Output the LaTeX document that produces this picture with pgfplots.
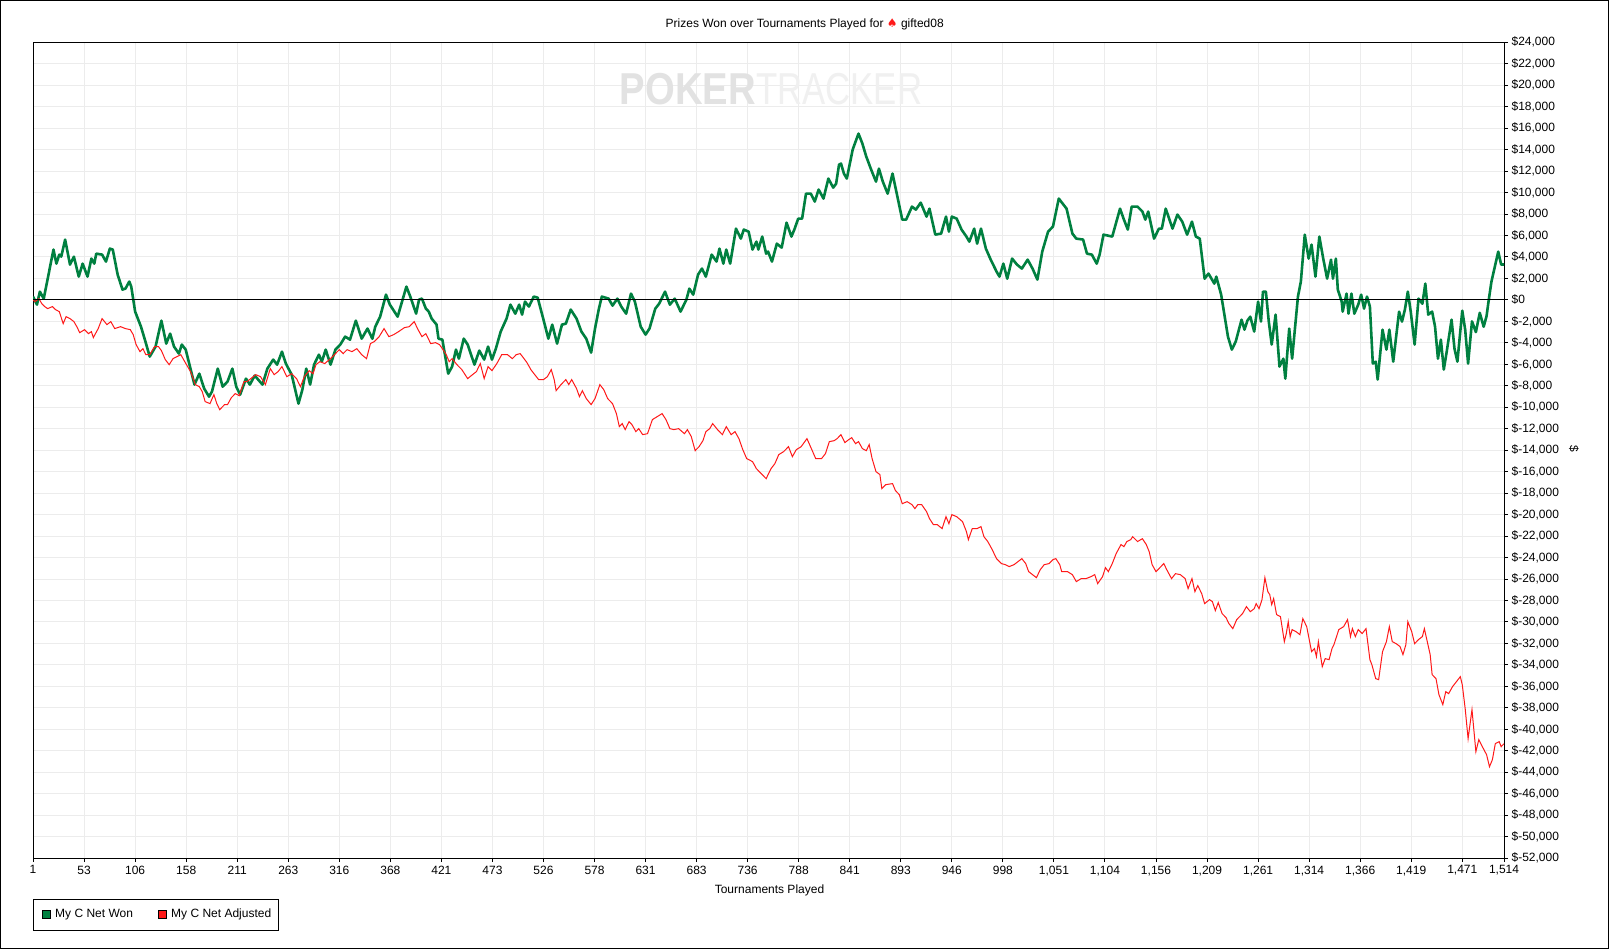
\documentclass[border=0pt]{standalone}
\usepackage{pgfplots}
\pgfplotsset{compat=1.18}
\usepackage{fontspec}
\setmainfont{Liberation Sans}
\newfontfamily\dejavu{DejaVu Sans}
\newcommand\cf{\fontsize{12bp}{14bp}\selectfont}
\definecolor{pgreen}{RGB}{0,128,64}
\definecolor{pred}{RGB}{255,25,25}
\definecolor{gridc}{RGB}{236,236,236}
\definecolor{wmA}{RGB}{226,226,226}
\definecolor{wmB}{RGB}{240,240,240}
\begin{document}
\begin{tikzpicture}[x=1bp,y=1bp]
\useasboundingbox (0,0) rectangle (1609,949);
\fill[white] (0,0) rectangle (1609,949);
\begin{axis}[
  at={(34,84.6)}, anchor=south west,
  scale only axis, width=1471bp, height=815.9bp,
  xmin=1, xmax=1514, ymin=-52000, ymax=24000,
  xtick={1,53.5,106,158.5,211,263.5,316,368.5,421,473.5,526,578.5,631,683.5,736,788.5,841,893.5,946,998.5,1051,1103.5,1156,1208.5,1261,1313.5,1366,1418.5,1471,1514},
  xticklabels={1,53,106,158,211,263,316,368,421,473,526,578,631,683,736,788,841,893,946,998,{1,051},{1,104},{1,156},{1,209},{1,261},{1,314},{1,366},{1,419},{1,471},{1,514}},
  ytick={-52000,-50000,...,24000},
  scaled y ticks=false,
  /pgf/number format/assume math mode=true,
  /pgf/number format/fixed, /pgf/number format/precision=0,
  /pgf/number format/1000 sep={,},
  yticklabel={\$\pgfmathprintnumber{\tick}},
  yticklabel pos=right, ytick pos=right, xtick pos=bottom,
  tick align=outside, major tick length=4bp,
  tick style={black, line width=1bp},
  axis line style={black, line width=1bp},
  grid=major, grid style={gridc, line width=1bp},
  xticklabel style={font=\cf, text=black},
  yticklabel style={font=\cf, text=black, anchor=west},
]
\addplot[pgreen, line width=2.6bp, line join=round] coordinates {
(1,300) (5,-440) (8,770) (12,120) (22,4690) (25,3380) (28,4220) (30,4030) (34,5620) (39,3290) (43,4030) (48,2170) (52,3380) (57,2170) (61,3850) (64,3380) (66,4310) (72,4220) (76,3570) (80,4780) (83,4690) (88,2360) (93,960) (96,1050) (100,1710) (102,1240) (106,-1090) (112,-2490) (116,-3700) (121,-5280) (127,-4350) (133,-1930) (138,-4070) (142,-3140) (146,-4350) (151,-5000) (154,-4160) (158,-4630) (167,-7890) (172,-6870) (177,-8260) (182,-9010) (185,-8540) (191,-6400) (196,-8080) (201,-7610) (206,-6400) (210,-8080) (214,-8820) (220,-7330) (224,-7890) (229,-7050) (237,-7890) (242,-6400) (248,-5560) (252,-6030) (257,-4820) (261,-5930) (267,-6960) (274,-9660) (278,-8360) (282,-6400) (286,-7890) (290,-6030) (295,-5100) (298,-5750) (302,-4630) (307,-6030) (312,-4630) (317,-4160) (322,-3420) (327,-3700) (333,-1930) (339,-3610) (345,-2670) (350,-3610) (353,-2490) (358,-1560) (364,490) (368,-440) (376,-1560) (385,1240) (389,310) (395,-1280) (398,30) (401,120) (405,-810) (408,-1090) (411,-1740) (416,-2300) (418,-3610) (422,-3700) (428,-6870) (432,-6210) (436,-4630) (439,-5470) (444,-3610) (448,-4160) (455,-6030) (460,-4720) (465,-5560) (469,-4350) (473,-5560) (477,-4540) (482,-2950) (488,-1740) (492,-440) (497,-1280) (501,-440) (504,-1370) (507,-160) (511,-620) (516,310) (520,210) (526,-1840) (531,-3610) (535,-2300) (540,-4070) (545,-2300) (549,-2210) (554,-900) (560,-1740) (565,-2950) (570,-3610) (575,-4910) (579,-2670) (583,-810) (586,310) (593,120) (597,-530) (602,120) (606,-620) (611,-1280) (616,590) (620,-160) (626,-2490) (631,-3230) (635,-2670) (641,-810) (645,-350) (651,770) (656,-440) (661,120) (667,-1090) (673,30) (676,1050) (680,490) (685,2360) (689,2920) (693,2170) (699,4220) (704,3570) (707,4780) (711,3380) (714,4690) (718,3380) (724,6640) (729,5710) (732,6550) (737,6360) (741,4690) (745,5430) (747,4690) (751,5900) (755,4310) (757,4500) (761,3570) (766,5240) (771,4870) (776,7200) (781,5900) (784,6550) (788,7570) (792,7570) (796,9900) (801,9900) (805,9160) (809,10280) (814,9440) (819,11300) (824,10460) (827,10830) (830,12600) (832,12700) (835,11770) (838,11300) (844,14000) (850,15490) (854,14560) (858,13350) (863,12140) (868,11020) (871,12230) (875,11020) (880,9900) (885,11770) (895,7480) (899,7480) (905,8690) (909,8410) (914,9060) (920,7760) (923,8500) (929,6080) (935,6180) (940,7760) (943,6360) (946,7760) (951,7570) (956,6550) (961,5900) (964,5430) (969,6640) (972,5240) (976,6640) (981,4780) (986,3750) (992,2640) (995,2170) (999,3380) (1003,1980) (1008,3850) (1013,3290) (1018,2920) (1024,3750) (1029,2920) (1034,1890) (1039,4500) (1045,6360) (1050,6830) (1056,9440) (1064,8500) (1070,6180) (1074,5710) (1081,5620) (1085,4310) (1090,4220) (1095,3380) (1098,4220) (1102,6080) (1111,5900) (1119,8500) (1123,7480) (1127,6550) (1131,8690) (1137,8690) (1142,8230) (1145,7480) (1148,8230) (1154,5710) (1159,6640) (1162,6640) (1166,8500) (1173,6640) (1178,7950) (1183,7290) (1188,6080) (1193,7290) (1197,5900) (1201,5710) (1206,1980) (1210,2450) (1216,1520) (1218,2170) (1223,490) (1230,-3420) (1234,-4630) (1238,-3880) (1244,-1840) (1247,-2770) (1250,-1930) (1253,-1560) (1257,-2950) (1261,-160) (1264,-2020) (1266,770) (1269,770) (1272,-2020) (1275,-4160) (1279,-1370) (1283,-6210) (1287,-5470) (1289,-7330) (1293,-2670) (1296,-5470) (1302,310) (1305,1710) (1309,6080) (1313,3850) (1316,5150) (1320,2170) (1324,5900) (1328,3850) (1332,1980) (1336,3750) (1338,1980) (1341,3850) (1343,960) (1347,-160) (1348,-1090) (1352,590) (1354,-1280) (1357,590) (1360,-1280) (1364,-440) (1367,490) (1370,-810) (1373,310) (1376,-620) (1379,-5930) (1382,-5750) (1384,-7420) (1389,-2770) (1393,-4630) (1396,-2770) (1400,-5750) (1406,-1090) (1409,-2020) (1412,-900) (1415,770) (1418,-1090) (1422,-4160) (1426,120) (1430,-350) (1433,1520) (1436,-1370) (1440,-1090) (1443,-2490) (1446,-5470) (1449,-3700) (1452,-6490) (1455,-4820) (1460,-1840) (1463,-4540) (1466,-5750) (1471,-1000) (1474,-2770) (1477,-5930) (1481,-2000) (1485,-3000) (1489,-1200) (1493,-2500) (1496,-1500) (1498,-160) (1501,1700) (1508,4500) (1511,3290) (1514,3300)
};
\addplot[pred, line width=1bp] coordinates {
(1,0) (3,-160) (7,120) (10,-350) (13,-620) (16,-810) (21,-620) (24,-900) (28,-1090) (32,-2210) (35,-1560) (39,-1740) (43,-2020) (46,-2490) (49,-3050) (54,-2770) (58,-3140) (61,-2950) (63,-3510) (68,-2670) (72,-1740) (77,-2300) (81,-2020) (85,-2670) (91,-2490) (96,-2670) (101,-2770) (104,-3230) (107,-4160) (111,-4820) (114,-4540) (117,-5100) (121,-5100) (126,-4350) (130,-4350) (133,-4720) (137,-5560) (141,-6030) (145,-5470) (149,-5280) (153,-5100) (157,-5750) (163,-6680) (168,-7890) (172,-8080) (175,-8540) (178,-9470) (183,-9660) (187,-8820) (190,-9660) (193,-10220) (198,-9750) (201,-9750) (205,-9100) (209,-8730) (213,-8920) (218,-7610) (221,-7610) (225,-7330) (230,-6960) (235,-7150) (240,-7890) (245,-6400) (249,-6960) (253,-6680) (257,-6210) (262,-7150) (267,-6870) (272,-7330) (276,-8080) (280,-7150) (285,-6590) (289,-6870) (292,-6030) (296,-5750) (301,-5930) (307,-5470) (311,-5100) (316,-4630) (320,-5000) (324,-4630) (329,-4820) (334,-4540) (339,-5100) (344,-5470) (348,-4070) (352,-3880) (357,-3420) (362,-2670) (367,-3420) (372,-3230) (377,-2950) (383,-2580) (388,-2490) (393,-2020) (397,-2770) (401,-3420) (405,-3140) (410,-4070) (415,-3980) (419,-4160) (422,-4540) (426,-5100) (429,-5750) (432,-5470) (437,-6030) (442,-6490) (448,-7330) (453,-6960) (457,-6680) (461,-5930) (465,-7330) (469,-6210) (473,-6590) (478,-5930) (483,-5100) (489,-5100) (494,-5470) (498,-5100) (502,-5000) (506,-5470) (509,-5840) (513,-6490) (517,-6960) (521,-7420) (526,-7420) (530,-7150) (534,-6490) (537,-7420) (539,-8450) (544,-7890) (549,-7420) (552,-7890) (555,-7420) (560,-8260) (563,-9010) (566,-8450) (570,-9190) (575,-9750) (579,-9190) (584,-7890) (588,-8360) (592,-9190) (597,-9660) (601,-10590) (604,-11800) (607,-11520) (610,-12080) (614,-11340) (617,-11620) (621,-12270) (624,-11990) (628,-12550) (633,-12460) (638,-11150) (643,-10870) (648,-10590) (652,-11150) (656,-11990) (660,-12080) (665,-11990) (671,-12460) (674,-12080) (678,-12730) (682,-14040) (686,-13670) (690,-13110) (693,-12270) (697,-11990) (700,-11520) (705,-12080) (710,-12550) (714,-11800) (719,-12550) (723,-12270) (727,-12920) (731,-13950) (735,-14780) (741,-15060) (745,-15720) (750,-16180) (755,-16650) (760,-15720) (764,-15250) (768,-14410) (773,-14130) (778,-13670) (782,-14600) (786,-13950) (791,-13670) (797,-12920) (802,-13950) (806,-14780) (812,-14780) (816,-14320) (820,-13200) (825,-13110) (828,-12920) (832,-12550) (836,-13290) (840,-13010) (843,-12830) (847,-13390) (850,-13200) (854,-13850) (858,-14040) (861,-13480) (864,-14780) (868,-16000) (872,-16270) (874,-17580) (878,-17210) (885,-17110) (888,-17760) (892,-18140) (895,-18980) (900,-18790) (905,-19070) (908,-19440) (911,-19070) (915,-19070) (920,-19720) (923,-20370) (927,-20930) (931,-20930) (936,-21300) (940,-20190) (943,-20840) (946,-20000) (951,-20190) (957,-20650) (961,-21580) (963,-22330) (967,-21300) (972,-21300) (976,-21120) (979,-22050) (983,-22510) (987,-23170) (992,-24100) (997,-24560) (1001,-24660) (1005,-24840) (1010,-24660) (1014,-24380) (1018,-24100) (1022,-24560) (1025,-25310) (1029,-25590) (1033,-25870) (1037,-25120) (1041,-24660) (1046,-24560) (1050,-24190) (1053,-24100) (1057,-24660) (1059,-25310) (1065,-25310) (1070,-25590) (1074,-26240) (1079,-25960) (1084,-25960) (1089,-25780) (1093,-25590) (1096,-26430) (1101,-25780) (1104,-24940) (1107,-25310) (1111,-24560) (1115,-23630) (1120,-22790) (1123,-22980) (1126,-22510) (1130,-22330) (1132,-22050) (1137,-22510) (1142,-22240) (1146,-22790) (1149,-23450) (1152,-24660) (1156,-25310) (1159,-25030) (1164,-24560) (1167,-25120) (1172,-25960) (1176,-25500) (1181,-25590) (1186,-25960) (1189,-26890) (1193,-25960) (1196,-27170) (1199,-26610) (1203,-27360) (1206,-28290) (1211,-27920) (1214,-28100) (1217,-28940) (1220,-28200) (1224,-29220) (1228,-29590) (1231,-30150) (1235,-30620) (1239,-29780) (1245,-29220) (1249,-28570) (1253,-29040) (1257,-28760) (1259,-28290) (1262,-28760) (1265,-27920) (1268,-25870) (1271,-27170) (1273,-27450) (1275,-28380) (1277,-27820) (1280,-29310) (1284,-29500) (1288,-31830) (1290,-31080) (1292,-29970) (1294,-31360) (1296,-30710) (1300,-30900) (1304,-31180) (1307,-29690) (1311,-30430) (1316,-32760) (1319,-32480) (1321,-33230) (1323,-31830) (1327,-34160) (1330,-33410) (1334,-33510) (1337,-32480) (1339,-32110) (1341,-31550) (1344,-30710) (1349,-30430) (1353,-29780) (1356,-31360) (1358,-30620) (1361,-31360) (1364,-30710) (1368,-31080) (1372,-30620) (1376,-33510) (1378,-33970) (1382,-35280) (1385,-35370) (1389,-32760) (1393,-31830) (1396,-30430) (1399,-31830) (1403,-32020) (1407,-32290) (1410,-33040) (1413,-32110) (1415,-29970) (1419,-30900) (1422,-32020) (1426,-31640) (1430,-31360) (1432,-30620) (1435,-31830) (1438,-33040) (1440,-34900) (1444,-35280) (1447,-36770) (1451,-37700) (1454,-36490) (1457,-36670) (1461,-36020) (1465,-35560) (1469,-35090) (1471,-35840) (1474,-38070) (1477,-40870) (1481,-38160) (1485,-42080) (1488,-40960) (1491,-41500) (1496,-42360) (1499,-43480) (1502,-42820) (1505,-41330) (1509,-41150) (1511,-41610) (1514,-41330)
};
\addplot[black, line width=1.1bp] coordinates {(1,0) (1514,0)};
\end{axis}
% watermark
\node[anchor=base east, inner sep=0, text=wmA, font=\fontsize{44.7bp}{50bp}\selectfont\bfseries] at (756,844) {\scalebox{0.855}[1]{POKER}};
\node[anchor=base west, inner sep=0, text=wmB, font=\fontsize{44.7bp}{50bp}\selectfont] at (756,844) {\scalebox{0.777}[1]{TRACKER}};
% frame
\draw[line width=1bp] (0.5,0.5) rectangle (1608.5,948.5);
% title
\node[anchor=base, inner sep=0, font=\cf] at (804.7,921.5) {Prizes Won over Tournaments Played for {\dejavu\color{pred}♠} gifted08};
% axis labels
\node[anchor=center, inner sep=0, font=\cf] at (769.5,59) {Tournaments Played};
\node[anchor=center, inner sep=0, font=\cf, rotate=-90] at (1574,500.3) {\$};
% legend
\draw[line width=1bp] (33.3,50) rectangle (278.3,19);
\draw[fill=pgreen, line width=0.8bp] (42.3,30.2) rectangle (50.3,38.7);
\node[anchor=west, inner sep=0, font=\cf] at (55,34.5) {My C Net Won};
\draw[fill=pred, line width=0.8bp] (158.3,30.2) rectangle (166.3,38.7);
\node[anchor=west, inner sep=0, font=\cf] at (171,34.5) {My C Net Adjusted};
\end{tikzpicture}
\end{document}
